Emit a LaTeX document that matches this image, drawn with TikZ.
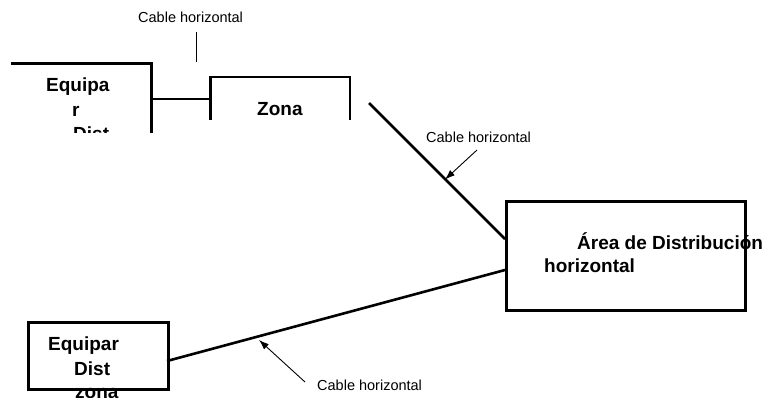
\documentclass[tikz,border=0pt]{standalone}
\usepackage{fontspec}
\setmainfont{Liberation Sans}
\usetikzlibrary{arrows.meta}
\begin{document}
\begin{tikzpicture}[x=1pt,y=-1pt,
  thick line/.style={line width=2.6pt},
  thin line/.style={line width=0.9pt},
  lbl/.style={font=\fontsize{14.5}{16}\selectfont, inner sep=0pt, anchor=base west},
  boldtxt/.style={font=\fontsize{19}{24}\selectfont\bfseries, inner sep=0pt, anchor=base west},
  pointer/.style={line width=0.9pt, -{Latex[length=10pt,width=7pt]}},
  boxnode/.style={draw, line width=2.6pt, inner sep=0pt, anchor=north west}]
\useasboundingbox (0,0) rectangle (770,398);

% --- top left partial box (Equipar Dist), clipped at the bottom
\begin{scope}
  \clip (0,0) rectangle (200,133);
  \draw[thick line] (11,63.5) -- (151.5,63.5) -- (151.5,140);
  \node[boldtxt] (t1) at (46,92) {Equipa};
  \node[boldtxt] (t2) at (72,117) {r};
  \node[boldtxt] (t3) at (73,141) {Dist};
\end{scope}
\coordinate (eqR) at (151.5,99);

% --- Zona partial box
\draw[thick line] (210.5,120) -- (210.5,77) -- (350,77) -- (350,120);
\node[boldtxt] (zona) at (257,116) {Zona};
\coordinate (zonaL) at (210.5,99);

% connector between the two
\draw[thick line] (eqR) -- (zonaL);

% top label
\node[lbl] (lblTop) at (138,23) {Cable horizontal};
\coordinate (vt1) at (196,32);
\coordinate (vt2) at (196,62);
\draw[line width=0.8pt] (vt1) -- (vt2);

% --- Area box
\node[boxnode, minimum width=239pt, minimum height=109pt] (area) at (505,200) {};
\node[boldtxt] (areaT1) at (577,249) {Área de Distribución};
\node[boldtxt] (areaT2) at (544,272) {horizontal};
\coordinate (areaA) at (505,239);
\coordinate (areaB) at (505,270);

% diagonal from Zona
\coordinate (zd) at (369,103);
\draw[thick line] (zd) -- (areaA);

% middle label and arrow
\node[lbl] (lblMid) at (426,143) {Cable horizontal};
\coordinate (am1) at (477,150);
\coordinate (am2) at (445,179.5);
\draw[pointer] (am1) -- (am2);

% --- bottom left box
\node[boxnode, minimum width=140pt, minimum height=67pt] (ezona) at (27,321) {};
\node[boldtxt] (ez1) at (48,350) {Equipar};
\node[boldtxt] (ez2) at (74,375) {Dist};
\node[boldtxt] (ez3) at (75,398) {zona};
\coordinate (ezR) at (167,361);
\draw[thick line] (ezR) -- (areaB);

% bottom label and arrow
\node[lbl] (lblBot) at (317,390) {Cable horizontal};
\coordinate (ab1) at (305,382);
\coordinate (ab2) at (259,340);
\draw[pointer] (ab1) -- (ab2);
\end{tikzpicture}
\end{document}
